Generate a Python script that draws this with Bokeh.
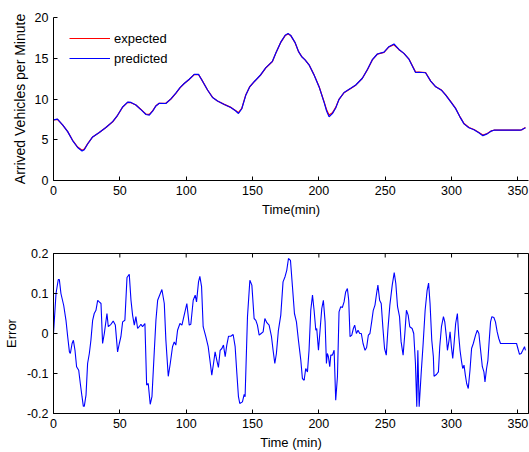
import math
from bokeh.plotting import figure
from bokeh.models import FixedTicker, Range1d
from bokeh.layouts import column
from bokeh.embed import file_html
from bokeh.resources import INLINE

FONT = "Liberation Sans"

# ---------------- data ----------------
x_ticks = [0, 50, 100, 150, 200, 250, 300, 350]
x_lim = [0, 358]
top_y_ticks = [0, 5, 10, 15, 20]
top_y_lim = [0, 20]
err_y_ticks = [-0.2, -0.1, 0, 0.1, 0.2]
err_y_lim = [-0.2, 0.2]
err_y_labels = {-0.2: "-0.2", -0.1: "-0.1", 0: "0", 0.1: "0.1", 0.2: "0.2"}

t_top = [0, 3, 7, 10.7, 14.4, 18.2, 21.5, 23.2, 25.7, 29.5, 34.5, 39.5, 44.6, 48.3,
         52.1, 55.9, 58.4, 62.1, 65.9, 69.7, 72.2, 74.7, 77.2, 79.7, 84.7, 88.5,
         92.2, 95.5, 98.5, 102.3, 106.1, 109.3, 111.8, 116.1, 119.9, 123.6, 128.7,
         133.7, 137.4, 139.4, 141.9, 144.9, 147.9, 151.2, 156.2, 159.9, 165, 167.5,
         171.3, 174.6, 176.8, 178.8, 182.1, 184.6, 187.1, 189.6, 192.6, 196.4,
         200.2, 203.9, 205.9, 207.7, 210.2, 212.7, 215.2, 219, 224, 227.8, 232.8,
         236.6, 240.3, 244.1, 249.1, 252.8, 256.6, 260.4, 264.1, 267.9, 272.9,
         275.4, 280.4, 284.3, 288.1, 292.4, 295.6, 299.4, 303.1, 306.4, 309.4,
         313.1, 316.9, 320.6, 323.6, 326.9, 329.9, 331.9, 351.5, 353.2, 355.7]
expected = [7.45, 7.5, 6.8, 6.0, 4.94, 4.1, 3.72, 3.85, 4.5, 5.35, 5.88, 6.5, 7.2, 8.0,
            9.0, 9.59, 9.55, 9.26, 8.72, 8.15, 8.12, 8.55, 9.17, 9.47, 9.47, 10.0,
            10.7, 11.4, 11.9, 12.4, 13.0, 13.0, 12.35, 11.1, 10.2, 9.75, 9.34,
            8.97, 8.56, 8.32, 8.84, 10.5, 11.5, 12.1, 12.96, 13.8, 14.6, 15.6,
            16.95, 17.78, 17.98, 17.78, 16.9, 15.84, 15.2, 14.8, 14.2, 12.96,
            11.5, 9.67, 8.64, 8.05, 8.3, 8.97, 9.96, 10.78, 11.3, 11.7, 12.55,
            13.6, 14.8, 15.5, 15.72, 16.4, 16.65, 16.05, 15.6, 14.9, 13.3,
            13.3, 13.25, 12.2, 11.5, 11.1, 10.5, 9.67, 8.84, 7.8, 6.99,
            6.5, 6.25, 5.88, 5.57, 5.76, 6.08, 6.17, 6.17, 6.25, 6.5]
predicted = [7.45, 7.52, 6.8, 6.0, 4.9, 4.05, 3.62, 3.78, 4.48, 5.35, 5.9, 6.5, 7.22, 8.0,
             9.02, 9.62, 9.58, 9.26, 8.7, 8.1, 8.02, 8.5, 9.15, 9.47, 9.45, 10.02,
             10.72, 11.42, 11.9, 12.42, 13.02, 13.02, 12.33, 11.1, 10.18, 9.75, 9.33,
             8.95, 8.52, 8.22, 8.8, 10.45, 11.5, 12.12, 12.98, 13.82, 14.62, 15.62,
             16.97, 17.82, 18.05, 17.8, 16.92, 15.85, 15.18, 14.8, 14.2, 12.95,
             11.48, 9.62, 8.5, 7.82, 8.2, 8.9, 9.95, 10.8, 11.32, 11.72, 12.55,
             13.62, 14.82, 15.52, 15.75, 16.42, 16.75, 16.08, 15.6, 14.88, 13.25,
             13.28, 13.22, 12.2, 11.5, 11.08, 10.48, 9.65, 8.82, 7.78, 6.95,
             6.47, 6.22, 5.85, 5.5, 5.72, 6.06, 6.17, 6.17, 6.25, 6.48]

t_err = [0, 1.9, 3.6, 4.4, 5.6, 7.7, 9.4, 10.7, 12, 12.7, 14, 15, 16.2, 17.4, 19, 20.2,
         21.5, 22.5, 23.2, 24.5, 25.7, 27, 28.2, 29.5, 30.7, 32, 33.3, 34.5, 35.8, 37,
         38.3, 40.3, 41.3, 43.3, 45, 46.6, 48.3, 49.6, 50.8, 52.1, 53.8, 55.4, 57.1,
         58.4, 59.6, 60.9, 62.1, 63.4, 64.6, 65.9, 67.1, 68.9, 70.2, 71.4, 72.9, 74.2,
         76, 77.2, 78.5, 80.5, 81.7, 83.5, 84.7, 86.5, 88, 89.7, 91, 92.2, 93.5, 95.3,
         96.8, 98.5, 100.5, 102.3, 103.5, 105.3, 106.8, 107.8, 109.3, 110.3, 111.6,
         112.8, 114.8, 116.6, 117.9, 119.3, 120.6, 121.8, 123.1, 124.3, 125.6, 126.9,
         128.1, 129.4, 130.6, 131.9, 133.6, 135.4, 136.9, 138.2, 139.4, 140.4, 142.4,
         143.7, 144.4, 146.2, 148, 149.5, 151.2, 152.5, 153.7, 155, 156.5, 158, 159.3,
         160.8, 162.5, 164.3, 165.5, 166.8, 168, 169.5, 171.3, 173, 174.5, 175.8,
         177.1, 178.6, 180.1, 181.6, 183.1, 184.6, 186.4, 187.6, 188.9, 190.1, 191.4,
         192.6, 193.9, 195.2, 196.4, 197.7, 198.4, 199.7, 200.9, 202.2, 203.4, 204.7,
         205.7, 206.4, 207.2, 208.2, 209, 210.2, 211.5, 212.7, 214, 215.2, 216.5,
         217.7, 219, 220.2, 221.5, 222.5, 223.5, 224.8, 226, 227, 228.3, 229.5, 230.8,
         232, 233.3, 234.8, 236, 237.3, 238.5, 239.8, 241, 242.3, 243.5, 244.5, 245.8,
         247, 248.3, 249.5, 250.8, 252, 253.5, 255.3, 256.8, 258, 259.3, 260.8, 262,
         263.5, 264.8, 266, 267.3, 268.5, 270.3, 271.5, 272.8, 273.8, 274.6, 275.6,
         277.1, 278.6, 280.1, 281.6, 282.7, 283.8, 285.1, 286.3, 286.8, 288.6, 290.1,
         291.1, 292.4, 293.9, 294.9, 296.1, 296.9, 298.1, 298.9, 299.9, 300.9, 301.9,
         303.1, 304.4, 305.4, 306.4, 307.4, 308.4, 309.4, 310.4, 311.4, 312.6, 313.9,
         315.1, 316.4, 318.1, 319.4, 320.6, 321.9, 323.2, 324.4, 325.2, 326.4, 327.4,
         328.4, 329.4, 330.4, 331.9, 333.1, 334.4, 335.6, 336.9, 349, 350, 351.2,
         352.5, 353.7, 355, 355.7]
err = [0, 0.1, 0.135, 0.135, 0.1, 0.07, 0.033, -0.008, -0.046, -0.05, -0.025, -0.017,
       -0.042, -0.083, -0.092, -0.125, -0.158, -0.182, -0.182, -0.154, -0.075, -0.05,
       -0.017, 0.033, 0.05, 0.058, 0.083, 0.079, 0.075, -0.025, 0, 0.05, 0.017, 0.023,
       0.031, 0.021, -0.046, -0.025, -0.008, 0.029, 0.033, 0.14, 0.148, 0.083, 0.046,
       0.021, 0.042, 0.0125, 0.017, 0.023, 0.017, 0.025, -0.129, -0.125, -0.177,
       -0.158, -0.042, 0.033, 0.083, 0.1, 0.11, 0.075, -0.017, -0.107, -0.075, -0.033,
       -0.021, -0.029, 0.008, 0.025, 0.021, 0.046, 0.075, 0.021, 0.023, 0.083, 0.096,
       0.079, 0.129, 0.143, 0.117, 0.017, -0.008, -0.033, -0.067, -0.104, -0.075,
       -0.046, -0.067, -0.085, -0.042, -0.0375, -0.029, -0.058, -0.029, -0.007,
       -0.007, -0.0025, -0.033, -0.1, -0.158, -0.175, -0.171, -0.152, -0.158, 0.042,
       0.133, 0.121, 0.0375, 0.033, 0.021, -0.004, 0, 0.004, 0.0375, 0.027, 0.021,
       -0.008, -0.042, -0.075, -0.05, 0.008, 0.046, 0.129, 0.142, 0.158, 0.1875,
       0.183, 0.117, 0.05, 0.029, -0.017, -0.067, -0.1125, -0.117, -0.0875, -0.096,
       -0.042, 0.058, 0.096, 0.058, 0.008, 0.0125, -0.042, 0.008, 0.0625, 0.083,
       0.029, -0.075, -0.05, -0.058, -0.083, -0.054, -0.054, -0.042, -0.167, -0.108,
       0.054, 0.067, 0.065, 0.079, 0.104, 0.1125, 0.083, -0.008, -0.004, 0.0125,
       0.021, 0, 0.008, 0, 0, -0.025, -0.042, -0.035, -0.004, 0, 0.029, 0.058, 0.071,
       0.1, 0.121, 0.083, 0.075, 0.0125, -0.0375, -0.054, 0.008, 0.071, 0.121, 0.152,
       0.125, 0.067, 0.042, -0.021, -0.054, 0, 0.058, 0.046, 0.017, 0.0125, 0, -0.075,
       -0.183, -0.042, -0.183, -0.1, -0.025, 0.058, 0.108, 0.126, 0.075, -0.017,
       -0.058, -0.107, -0.1025, -0.096, -0.033, 0.017, 0.042, 0.029, -0.008, -0.042,
       -0.017, 0.004, -0.033, -0.0625, -0.025, 0.025, 0.05, -0.004, -0.042, -0.067,
       -0.0875, -0.079, -0.104, -0.125, -0.1375, -0.092, -0.0375, -0.025, -0.004,
       0.008, 0, -0.042, -0.083, -0.096, -0.121, -0.0875, -0.067, -0.017, 0.029,
       0.042, 0.04, 0.029, 0.004, -0.0125, -0.025, -0.025, -0.0375, -0.052, -0.05,
       -0.042, -0.033, -0.042]


def style_axis(ax, ticks, size="12.5px"):
    ax.ticker = FixedTicker(ticks=ticks)
    ax.major_tick_in = 4
    ax.major_tick_out = 0
    ax.minor_tick_line_color = None
    ax.axis_line_color = "black"
    ax.major_tick_line_color = "black"
    ax.major_label_text_font = FONT
    ax.major_label_text_color = "black"
    ax.major_label_text_font_size = size
    ax.major_label_standoff = 5
    ax.axis_label_text_font = FONT
    ax.axis_label_text_font_style = "normal"
    ax.axis_label_text_color = "black"


# ---------------- top plot ----------------
p1 = figure(width=529, height=225, x_range=Range1d(*x_lim), y_range=Range1d(*top_y_lim),
            output_backend="svg", toolbar_location=None,
            min_border_left=53, min_border_right=1, min_border_top=17, min_border_bottom=45)
p1.outline_line_color = None
p1.xgrid.visible = False
p1.ygrid.visible = False
p1.background_fill_color = "white"
p1.border_fill_color = "white"

p1.line(t_top, expected, color="#ff0000", line_width=1.2, legend_label="expected")
p1.line(t_top, predicted, color="#0000ff", line_width=1.2, legend_label="predicted")

style_axis(p1.xaxis[0], x_ticks)
style_axis(p1.yaxis[0], top_y_ticks)
p1.xaxis.axis_label = "Time(min)"
p1.xaxis.axis_label_text_font_size = "13px"
p1.xaxis.axis_label_standoff = 4
p1.yaxis.axis_label = "Arrived Vehicles per Minute"
p1.yaxis.axis_label_text_font_size = "14px"
p1.yaxis.axis_label_standoff = 4

lg = p1.legend[0]
lg.location = (16, 112)
lg.padding = 0
lg.margin = 0
lg.spacing = 0
lg.glyph_width = 41
lg.glyph_height = 20
lg.label_height = 20
lg.label_standoff = 4
lg.label_text_font = FONT
lg.label_text_font_size = "13px"
lg.label_text_color = "black"
lg.border_line_color = None
lg.background_fill_alpha = 0

# ---------------- bottom plot ----------------
p2 = figure(width=529, height=227, x_range=Range1d(*x_lim), y_range=Range1d(*err_y_lim),
            output_backend="svg", toolbar_location=None,
            min_border_left=53, min_border_right=1, min_border_top=28, min_border_bottom=39)
p2.outline_line_color = "black"
p2.outline_line_width = 1
p2.xgrid.visible = False
p2.ygrid.visible = False
p2.background_fill_color = "white"
p2.border_fill_color = "white"

p2.line(t_err, err, color="#0000ff", line_width=1.1)

# inward tick marks on the top and right edges of the box (clipped to the frame)
p2.scatter(x_ticks, [err_y_lim[1]] * len(x_ticks), marker="dash", size=8,
           angle=math.pi / 2, line_color="black", line_width=1)
p2.scatter([x_lim[1]] * len(err_y_ticks), err_y_ticks, marker="dash", size=8,
           line_color="black", line_width=1)

style_axis(p2.xaxis[0], x_ticks)
style_axis(p2.yaxis[0], err_y_ticks)
p2.yaxis[0].major_label_overrides = err_y_labels
p2.xaxis.axis_label = "Time (min)"
p2.xaxis.axis_label_text_font_size = "13px"
p2.xaxis.axis_label_standoff = 4
p2.yaxis.axis_label = "Error"
p2.yaxis.axis_label_text_font_size = "13px"
p2.yaxis.axis_label_standoff = 5

layout = column(p1, p2, spacing=0)
open("out.html", "w").write(file_html(layout, INLINE))
